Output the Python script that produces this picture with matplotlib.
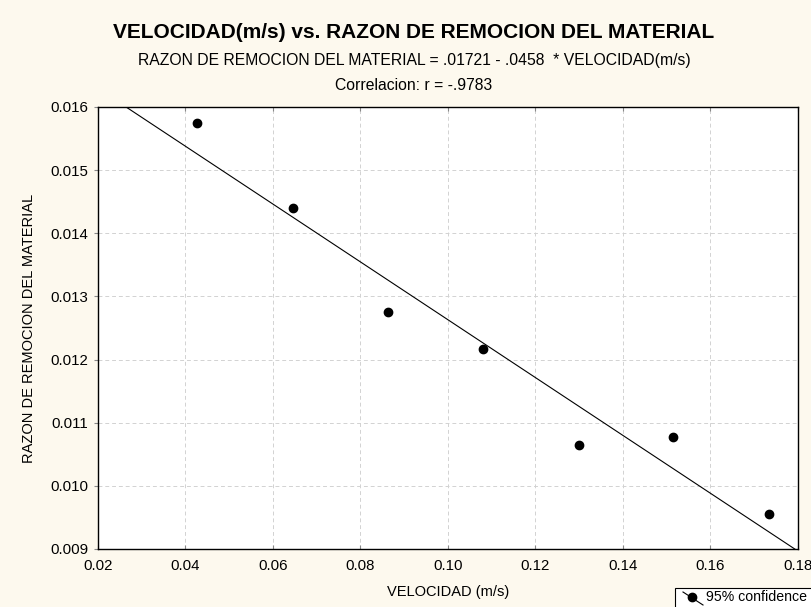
"""
Scatter of material removal rate vs. velocity with the fitted line,
styled like the original STATISTICA output.
"""

import matplotlib
matplotlib.use("Agg")
import matplotlib.pyplot as plt
from matplotlib.lines import Line2D
from matplotlib.patches import Rectangle
import numpy as np

plt.rcParams["font.family"] = ["Liberation Sans", "DejaVu Sans"]

BG = "#fdf9ee"
GRID = "#d2d2d2"

# data
velocidad = [0.0427, 0.0646, 0.0862, 0.1080, 0.1300, 0.1514, 0.1733]
razon = [0.01574, 0.01440, 0.01275, 0.01217, 0.01065, 0.01077, 0.00955]

# fitted line as printed in the subtitle
INTERCEPT = 0.01721
SLOPE = -0.0458

x_ticks = [0.02, 0.04, 0.06, 0.08, 0.10, 0.12, 0.14, 0.16, 0.18]
y_ticks = [0.009, 0.010, 0.011, 0.012, 0.013, 0.014, 0.015, 0.016]

W, H = 812, 607
fig = plt.figure(figsize=(W / 100, H / 100), dpi=100, facecolor=BG)
ax = fig.add_axes([98 / W, (H - 549) / H, 700 / W, 442 / H])
ax.set_facecolor("white")

xs = np.array([x_ticks[0], x_ticks[-1]])
ax.plot(xs, INTERCEPT + SLOPE * xs, color="black", linewidth=0.8)
ax.plot(velocidad, razon, "o", color="black", markersize=6)

ax.set_xlim(x_ticks[0], x_ticks[-1])
ax.set_ylim(y_ticks[0], y_ticks[-1])
ax.set_xticks(x_ticks)
ax.set_yticks(y_ticks)
ax.set_xticklabels([f"{v:.2f}" for v in x_ticks])
ax.set_yticklabels([f"{v:.3f}" for v in y_ticks])
ax.grid(True, color=GRID, linestyle=(0, (4, 3)), linewidth=0.7)
ax.tick_params(axis="x", direction="in", top=True, length=3, color="#888888",
               labelsize=10.8, pad=7)
ax.tick_params(axis="y", direction="out", length=3, color="#888888",
               labelsize=10.8, pad=4)
for sp in ax.spines.values():
    sp.set_linewidth(1.0)
    sp.set_color("black")

ax.set_xlabel("VELOCIDAD (m/s)", fontsize=10.5, labelpad=9)
ax.set_ylabel("RAZON DE REMOCION DEL MATERIAL", fontsize=10.5, labelpad=10)

cx = 414 / W
fig.text(cx, 1 - 33 / H, "VELOCIDAD(m/s) vs. RAZON DE REMOCION DEL MATERIAL",
         ha="center", va="center", fontsize=15, fontweight="bold")
fig.text(cx, 1 - 60 / H,
         "RAZON DE REMOCION DEL MATERIAL = .01721 - .0458  * VELOCIDAD(m/s)",
         ha="center", va="center", fontsize=11.3)
fig.text(cx, 1 - 85 / H, "Correlacion: r = -.9783",
         ha="center", va="center", fontsize=11.3)

# legend box, running off the figure edge as in the original
fig.add_artist(Rectangle((675 / W, -0.05), 0.3, 0.05 + 19 / H,
                         transform=fig.transFigure, facecolor="white",
                         edgecolor="black", linewidth=0.8))
fig.add_artist(Line2D([683 / W, 703 / W], [1 - 592 / H, 1 - 605 / H],
                      transform=fig.transFigure, color="black", linewidth=0.8))
fig.add_artist(Line2D([692 / W], [1 - 597 / H], transform=fig.transFigure,
                      marker="o", markersize=6, color="black"))
fig.text(706 / W, 1 - 597 / H, "95% confidence", ha="left", va="center",
         fontsize=10.2)

fig.savefig("out.png", dpi=100, facecolor=BG)
